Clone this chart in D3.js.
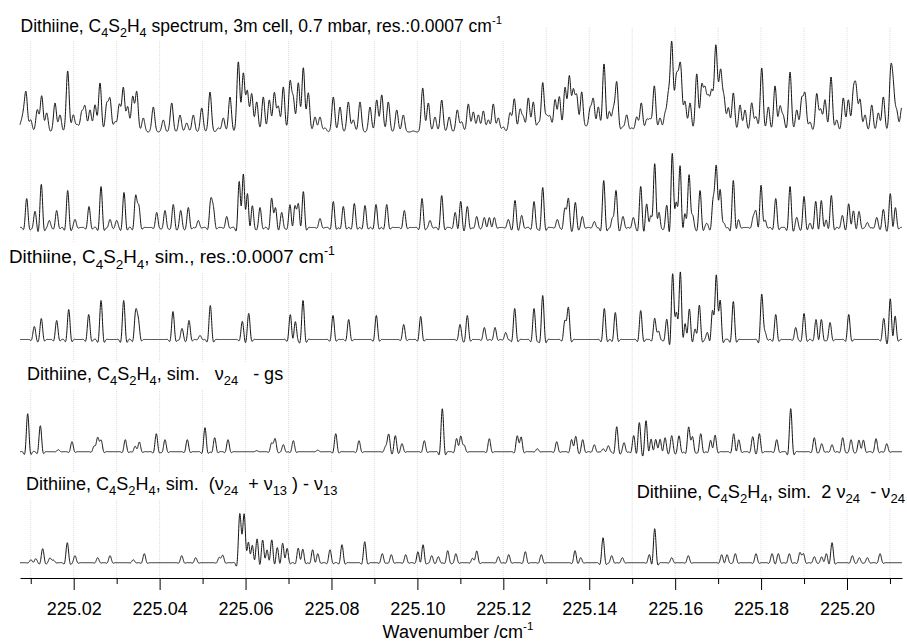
<!DOCTYPE html>
<html>
<head>
<meta charset="utf-8">
<script src="https://cdn.jsdelivr.net/npm/d3@7"></script>
<style>
    body { margin: 0; background: #fff; }
    svg { font-family: "Liberation Sans", Arial, Helvetica, sans-serif; }
</style>
</head>
<body>
<script>
// peak lists: [wavenumber / cm-1, intensity (arb.)]
var measured = [
    [225.00766,7],[225.00827,14],[225.00890,38],[225.00999,12],[225.01153,22],[225.01255,36],[225.01372,19],[225.01565,29],
    [225.01681,17],[225.01860,61],[225.01991,17],[225.02084,7],[225.02186,19],[225.02263,25],[225.02379,22],[225.02496,27],
    [225.02612,49],[225.02768,27],[225.02845,32],[225.02961,10],[225.03061,27],[225.03155,44],[225.03257,25],[225.03373,35],
    [225.03467,40],[225.03620,14],[225.03853,25],[225.04086,12],[225.04281,29],[225.04474,17],[225.04630,9],[225.04784,17],
    [225.04980,24],[225.05173,40],[225.05366,4],[225.05482,14],[225.05638,35],[225.05832,70],[225.05948,58],[225.06041,40],
    [225.06143,38],[225.06260,30],[225.06413,35],[225.06553,32],[225.06670,39],[225.06763,25],[225.06879,45],[225.07035,49],
    [225.07112,32],[225.07228,49],[225.07345,64],[225.07461,39],[225.07617,15],[225.07733,15],[225.07850,4],[225.08043,35],
    [225.08199,25],[225.08392,30],[225.08508,12],[225.08664,30],[225.08897,25],[225.09053,32],[225.09170,37],[225.09323,30],
    [225.09519,22],[225.09672,17],[225.09905,1],[225.10124,44],[225.10254,29],[225.10410,15],[225.10566,32],[225.10740,15],
    [225.10929,22],[225.11032,10],[225.11185,28],[225.11302,20],[225.11418,17],[225.11535,21],[225.11651,12],[225.11767,28],
    [225.11884,14],[225.12000,5],[225.12156,19],[225.12256,33],[225.12389,22],[225.12466,14],[225.12582,34],[225.12698,30],
    [225.12815,9],[225.12917,49],[225.13010,15],[225.13087,15],[225.13204,32],[225.13304,35],[225.13436,44],[225.13536,55],
    [225.13629,40],[225.13709,35],[225.13825,40],[225.13925,5],[225.14018,22],[225.14095,32],[225.14211,25],[225.14344,68],
    [225.14467,20],[225.14561,21],[225.14640,49],[225.14779,5],[225.14872,17],[225.14989,4],[225.15105,15],[225.15212,29],
    [225.15338,12],[225.15415,12],[225.15515,46],[225.15648,14],[225.15764,17],[225.15841,34],[225.15920,88],[225.16020,45],
    [225.16074,34],[225.16130,58],[225.16230,30],[225.16346,29],[225.16502,58],[225.16618,45],[225.16695,40],[225.16772,32],
    [225.16851,39],[225.16944,82],[225.17005,20],[225.17061,55],[225.17137,32],[225.17238,24],[225.17354,39],[225.17510,27],
    [225.17626,22],[225.17782,29],[225.17882,15],[225.18015,64],[225.18169,25],[225.18325,46],[225.18441,25],[225.18518,15],
    [225.18674,60],[225.18830,22],[225.18946,32],[225.19023,37],[225.19139,10],[225.19295,38],[225.19388,22],[225.19488,32],
    [225.19628,55],[225.19761,12],[225.19914,34],[225.20031,32],[225.20147,37],[225.20210,41],[225.20303,32],[225.20420,17],
    [225.20576,27],[225.20729,19],[225.20846,35],[225.21018,58],[225.21078,39],[225.21158,20],[225.21274,24]
];

var simTotal = [
    [225.00906,29],[225.01099,16],[225.01246,43],[225.01432,7],[225.01604,17],[225.01860,37],[225.02030,8],[225.02356,21],
    [225.02636,41],[225.02845,8],[225.03001,7],[225.03171,35],[225.03443,34],[225.03513,25],[225.03932,15],[225.04125,17],
    [225.04318,23],[225.04491,17],[225.04668,20],[225.04900,7],[225.05189,29],[225.05250,22],[225.05562,11],[225.05855,49],
    [225.05948,58],[225.06041,37],[225.06157,22],[225.06337,20],[225.06609,31],[225.06693,22],[225.06842,15],[225.07035,23],
    [225.07151,24],[225.07228,26],[225.07345,36],[225.07733,9],[225.08043,26],[225.08276,21],[225.08532,24],[225.08781,22],
    [225.09037,23],[225.09286,23],[225.09696,17],[225.10108,29],[225.10294,7],[225.10566,32],[225.10880,15],
    [225.11008,26],[225.11162,21],[225.11381,11],[225.11558,10],[225.11674,10],[225.11790,10],[225.12116,8],[225.12272,27],
    [225.12428,12],[225.12715,26],[225.12917,40],[225.13257,8],[225.13436,22],[225.13513,31],[225.13676,25],[225.13839,11],
    [225.14118,6],[225.14337,47],[225.14547,13],[225.14623,38],[225.14786,11],[225.15026,10],[225.15198,41],[225.15338,24],
    [225.15438,17],[225.15524,66],[225.15617,18],[225.15804,22],[225.15934,76],[225.16025,34],[225.16113,64],[225.16230,17],
    [225.16323,55],[225.16400,17],[225.16579,37],[225.16735,4],[225.16888,35],[225.16958,67],[225.17044,43],[225.17121,8],
    [225.17354,47],[225.17470,8],[225.17819,12],[225.17882,17],[225.17999,43],[225.18085,10],[225.18341,29],[225.18674,41],
    [225.18830,10],[225.19000,31],[225.19139,4],[225.19272,26],[225.19402,27],[225.19512,8],[225.19635,32],[225.19891,12],
    [225.20040,24],[225.20147,17],[225.20280,16],[225.20473,5],[225.20692,10],[225.20846,18],[225.21008,34],[225.21125,20]
];

var simRes = [
    [225.01083,13],[225.01246,21],[225.01604,19],[225.01884,30],[225.02349,25],[225.02636,39],[225.03164,39],[225.03443,30],
    [225.03504,22],[225.04311,28],[225.04521,11],[225.04684,19],[225.04940,4],[225.05180,34],[225.05925,18],[225.06074,26],
    [225.07042,25],[225.07158,18],[225.07338,39],[225.08036,24],[225.08401,20],[225.09044,24],[225.09682,15],[225.10077,23],
    [225.10992,15],[225.11162,24],[225.11558,12],[225.11807,12],[225.12056,7],[225.12265,31],[225.12715,31],[225.12917,44],
    [225.13436,22],[225.13513,34],[225.14351,31],[225.14607,27],[225.15198,29],[225.15524,22],[225.15608,10],[225.15804,20],
    [225.15943,68],[225.16030,36],[225.16120,70],[225.16230,18],[225.16330,31],[225.16469,12],[225.16562,35],[225.16749,7],
    [225.16874,34],[225.16958,70],[225.17044,44],[225.17354,38],[225.18015,46],[225.18085,12],[225.18341,25],[225.18806,12],
    [225.19000,26],[225.19279,20],[225.19402,20],[225.19605,17],[225.20040,25],[225.20855,21],[225.21008,41],[225.21118,24]
];

var simNu24 = [
    [225.00929,38],[225.01223,26],[225.01642,2],[225.01960,10],[225.02480,7],[225.02559,16],[225.02636,13],[225.03201,12],
    [225.03434,6],[225.03527,10],[225.03923,18],[225.04125,12],[225.04644,12],[225.05056,24],[225.05282,14],[225.05592,12],
    [225.06260,1],[225.06609,10],[225.06686,14],[225.06879,7],[225.07112,11],[225.07680,1.5],[225.08099,18],[225.08641,11],
    [225.09263,7],[225.09332,18],[225.09486,16],[225.09642,8],[225.10161,11],[225.10580,43],[225.10915,14],[225.11008,17],
    [225.11085,8],[225.11674,13],[225.12326,17],[225.12412,16],[225.12791,3],[225.13243,10],[225.13592,13],[225.13685,16],
    [225.13848,12],[225.14118,7],[225.14328,3],[225.14444,6],[225.14640,25],[225.14810,9],[225.15035,16],[225.15166,29],
    [225.15322,31],[225.15438,13],[225.15548,13],[225.15648,13],[225.15764,14],[225.15920,16],[225.16090,16],[225.16316,26],
    [225.16400,17],[225.16595,18],[225.16828,12],[225.16928,17],[225.17363,18],[225.17480,12],[225.17805,15],[225.17959,18],
    [225.18364,12],[225.18690,43],[225.19239,14],[225.19412,8],[225.19651,7],[225.19900,14],[225.20094,12],[225.20280,12],
    [225.20380,12],[225.20676,13],[225.20925,8]
];

var simHot = [
    [225.01006,3],[225.01116,4],[225.01278,14],[225.01448,5],[225.01525,3],[225.01851,20],[225.02030,7],[225.02559,5],
    [225.02845,7],[225.03387,3],[225.03643,9],[225.04514,7],[225.04840,5],[225.05389,6],[225.05468,8],[225.05864,48],
    [225.05917,20],[225.05971,49],[225.06064,24],[225.06157,19],[225.06267,24],[225.06399,23],[225.06500,14],[225.06609,23],
    [225.06739,15],[225.06865,20],[225.06965,15],[225.07228,15],[225.07331,14],[225.07563,13],[225.07680,9],[225.07966,13],
    [225.08245,18],[225.08774,21],[225.09183,9],[225.09393,8],[225.09728,8],[225.10014,11],[225.10131,18],[225.10333,7],
    [225.10487,6],[225.10706,12],[225.10896,9],[225.11288,5],[225.11381,12],[225.11884,6],[225.12126,8],[225.12512,11],
    [225.12885,8],[225.13669,12],[225.13802,5],[225.14321,25],[225.14523,7],[225.14770,5],[225.15399,8],[225.15524,34],
    [225.15920,5],[225.16306,7],[225.17084,8],[225.17207,8],[225.17400,9],[225.17882,9],[225.18255,9],[225.18401,9],
    [225.18657,9],[225.18906,11],[225.18983,10],[225.19239,6],[225.19412,6],[225.19519,9],[225.19651,20],[225.20124,7],
    [225.20287,5],[225.20473,5],[225.20769,9]
];

var majorTicks = [225.02, 225.04, 225.06, 225.08, 225.10, 225.12, 225.14, 225.16, 225.18, 225.20];
var minorTicks = [225.01, 225.03, 225.05, 225.07, 225.09, 225.11, 225.13, 225.15, 225.17, 225.19, 225.21];

var labelMeasured = "Dithiine, C_{4}S_{2}H_{4} spectrum, 3m cell, 0.7 mbar, res.:0.0007 cm^{-1}";
var labelSimRes = "Dithiine, C_{4}S_{2}H_{4}, sim., res.:0.0007 cm^{-1}";
var labelNu24 = "Dithiine, C_{4}S_{2}H_{4}, sim.   \u03bd_{24}   - gs";
var labelHot13 = "Dithiine, C_{4}S_{2}H_{4}, sim.  (\u03bd_{24}  + \u03bd_{13} ) - \u03bd_{13}";
var labelHot24 = "Dithiine, C_{4}S_{2}H_{4}, sim.  2 \u03bd_{24}  - \u03bd_{24}";
var axisTitle = "Wavenumber /cm^{-1}";

var width = 907, height = 641;
var axisY = 578;

var svg = d3.select("body").append("svg")
    .attr("width", width)
    .attr("height", height);

var x = d3.scaleLinear().domain([225.0075, 225.2128]).range([20, 902]);

/**
 * line profile of one transition
 * ring = resolution limited (windowed sinc), otherwise gaussian
 */
function lineShape(d, w, ring) {
    var u = d / w;
    if (!ring) return Math.exp(-0.5 * u * u);
    var s = u === 0 ? 1 : Math.sin(Math.PI * u) / (Math.PI * u);
    return s * Math.exp(-(u / 1.3) * (u / 1.3));
}

/**
 * sum the peak list over the wavenumber axis
 */
function profile(peaks, w, ring) {
    var dom = x.domain();
    var step = 0.00004;
    var pts = [];
    for (var v = dom[0]; v <= dom[1] + 1e-9; v += step) {
        var sum = 0;
        for (var i = 0; i < peaks.length; i++) {
            var d = v - peaks[i][0];
            if (Math.abs(d) > 6 * w) continue;
            sum += peaks[i][1] * lineShape(d, w, ring);
        }
        pts.push([v, sum]);
    }
    return pts;
}

// grid
svg.append("g").selectAll("line")
    .data(majorTicks.concat(minorTicks))
    .enter().append("line")
    .attr("x1", function (d) { return x(d); })
    .attr("x2", function (d) { return x(d); })
    .attr("y1", 27)
    .attr("y2", axisY)
    .attr("stroke", "#dedede")
    .attr("stroke-dasharray", "1,1");

var traces = [
    { peaks: measured, base: 132, w: 0.00034, ring: false },
    { peaks: simTotal, base: 227.5, w: 0.00061, ring: true },
    { peaks: simRes, base: 339.5, w: 0.00061, ring: true },
    { peaks: simNu24, base: 451.7, w: 0.00061, ring: true },
    { peaks: simHot, base: 562.7, w: 0.00061, ring: true }
];

traces.forEach(function (t) {
    var y = d3.scaleLinear().domain([0, 100]).range([t.base, t.base - 100]);
    var line = d3.line()
        .x(function (d) { return x(d[0]); })
        .y(function (d) { return y(d[1]); });
    svg.append("path")
        .datum(profile(t.peaks, t.w, t.ring))
        .attr("d", line)
        .attr("fill", "none")
        .attr("stroke", "#111")
        .attr("stroke-width", 1)
        .attr("stroke-linejoin", "round");
});

/**
 * text with _{sub} and ^{sup} parts
 */
function richText(sel, str, size) {
    var parts = str.split(/([_^]\{[^}]*\})/);
    var shift = 0;
    parts.forEach(function (p) {
        if (!p) return;
        var target = 0, fs = size;
        if (p.slice(0, 2) === "_{") { target = size * 0.3; fs = size * 0.72; p = p.slice(2, -1); }
        else if (p.slice(0, 2) === "^{") { target = -size * 0.45; fs = size * 0.65; p = p.slice(2, -1); }
        sel.append("tspan")
            .attr("dy", target - shift)
            .style("font-size", fs + "px")
            .text(p);
        shift = target;
    });
}

function addLabel(str, lx, ly, anchor, size) {
    var g = svg.append("g");
    var t = g.append("text")
        .attr("x", lx)
        .attr("y", ly)
        .attr("text-anchor", anchor)
        .attr("xml:space", "preserve")
        .style("white-space", "pre")
        .style("font-size", size + "px")
        .attr("fill", "#000");
    richText(t, str, size);
    var b = t.node().getBBox();
    g.insert("rect", "text")
        .attr("x", b.x - 2)
        .attr("y", b.y - 1)
        .attr("width", b.width + 4)
        .attr("height", b.height + 2)
        .attr("fill", "#fff");
}

addLabel(labelMeasured, 20.5, 31.5, "start", 17.5);
addLabel(labelSimRes, 9, 263, "start", 18.8);
addLabel(labelNu24, 27, 380, "start", 18);
addLabel(labelHot13, 26, 490, "start", 18);
addLabel(labelHot24, 905, 498, "end", 18.2);

// axis
var axisG = svg.append("g")
    .attr("transform", "translate(0," + axisY + ")")
    .call(d3.axisBottom(x)
        .tickValues(majorTicks)
        .tickFormat(d3.format(".2f"))
        .tickSizeInner(12)
        .tickSizeOuter(0)
        .tickPadding(12));
axisG.attr("font-family", null).attr("font-size", null);
axisG.selectAll("text").style("font-size", "18px").attr("fill", "#000");
axisG.selectAll("line, path").attr("stroke", "#000");

var minorG = svg.append("g")
    .attr("transform", "translate(0," + axisY + ")")
    .call(d3.axisBottom(x)
        .tickValues(minorTicks)
        .tickFormat("")
        .tickSizeInner(6)
        .tickSizeOuter(0));
minorG.select(".domain").remove();
minorG.selectAll("line").attr("stroke", "#000");

var title = svg.append("text")
    .attr("x", 458)
    .attr("y", 638)
    .attr("text-anchor", "middle")
    .style("font-size", "18px");
richText(title, axisTitle, 18);
</script>
</body>
</html>
